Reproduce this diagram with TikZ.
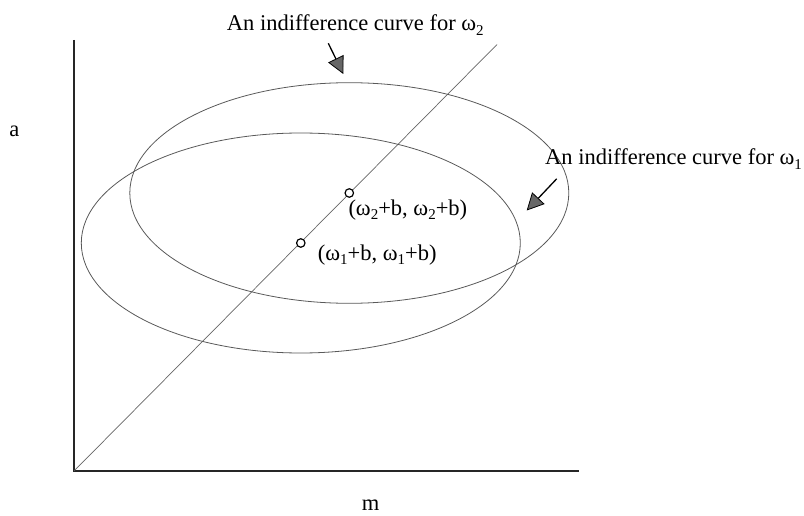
\documentclass[tikz,border=0pt]{standalone}
\usepackage{fontspec}
\setmainfont{Liberation Serif}
\usetikzlibrary{arrows.meta}
\newcommand\lowsub[1]{\raisebox{-0.2em}{\fontsize{15}{15}\selectfont #1}}
\tikzset{
  axisline/.style={line width=1.2pt, draw=black!85},
  thinline/.style={line width=0.7pt, draw=black!60},
  curveline/.style={line width=0.8pt, draw=black!65},
  lbl/.style={inner sep=0pt, anchor=base west, font=\fontsize{22.5}{27}\selectfont},
  dotmark/.style={circle, draw=black, line width=1.2pt, fill=white, minimum size=8.5pt, inner sep=0pt},
  fatarrow/.style={draw=black, line width=1.3pt, -{Triangle[length=17pt,width=17pt,fill=black!60,line width=0.8pt]}}
}
\begin{document}
\begin{tikzpicture}[x=1pt,y=-1pt]
\useasboundingbox (0,0) rectangle (804,516);
% axes
\coordinate (O) at (74,471);
\coordinate (Ytop) at (74,40);
\coordinate (Xend) at (579,471);
\coordinate (Dtop) at (497,44.5);
\draw[axisline] (Ytop) -- (O) -- (Xend);
% diagonal
\draw[thinline] (O) -- (Dtop);
% ellipses
\coordinate (C2) at (349.3,193);
\coordinate (C1) at (300.8,243);
\draw[curveline] (C2) ellipse [x radius=219.5, y radius=110.3];
\draw[curveline] (C1) ellipse [x radius=219.5, y radius=110];
% markers
\node[dotmark] (p2) at (C2) {};
\node[dotmark] (p1) at (C1) {};
% point labels
\node[lbl] (l2) at (348.3,215) {(ω\lowsub{2}+b, ω\lowsub{2}+b)};
\node[lbl] (l1) at (317.7,260) {(ω\lowsub{1}+b, ω\lowsub{1}+b)};
% curve labels
\node[lbl] (t2) at (226.7,30.7) {An indifference curve for ω\lowsub{2}};
\node[lbl] (t1) at (545,165) {An indifference curve for ω\lowsub{1}};
% axis labels
\node[inner sep=0pt, anchor=base, font=\fontsize{22.5}{27}\selectfont] (la) at (14.3,137) {a};
\node[inner sep=0pt, anchor=base, font=\fontsize{22.5}{27}\selectfont] (lm) at (370.7,510) {m};
% arrows
\coordinate (a2s) at (328.3,43.3);
\coordinate (a2e) at (343.3,74);
\coordinate (a1s) at (556.7,178.8);
\coordinate (a1e) at (526.7,210.5);
\draw[fatarrow] (a2s) -- (a2e);
\draw[fatarrow] (a1s) -- (a1e);
\end{tikzpicture}
\end{document}
